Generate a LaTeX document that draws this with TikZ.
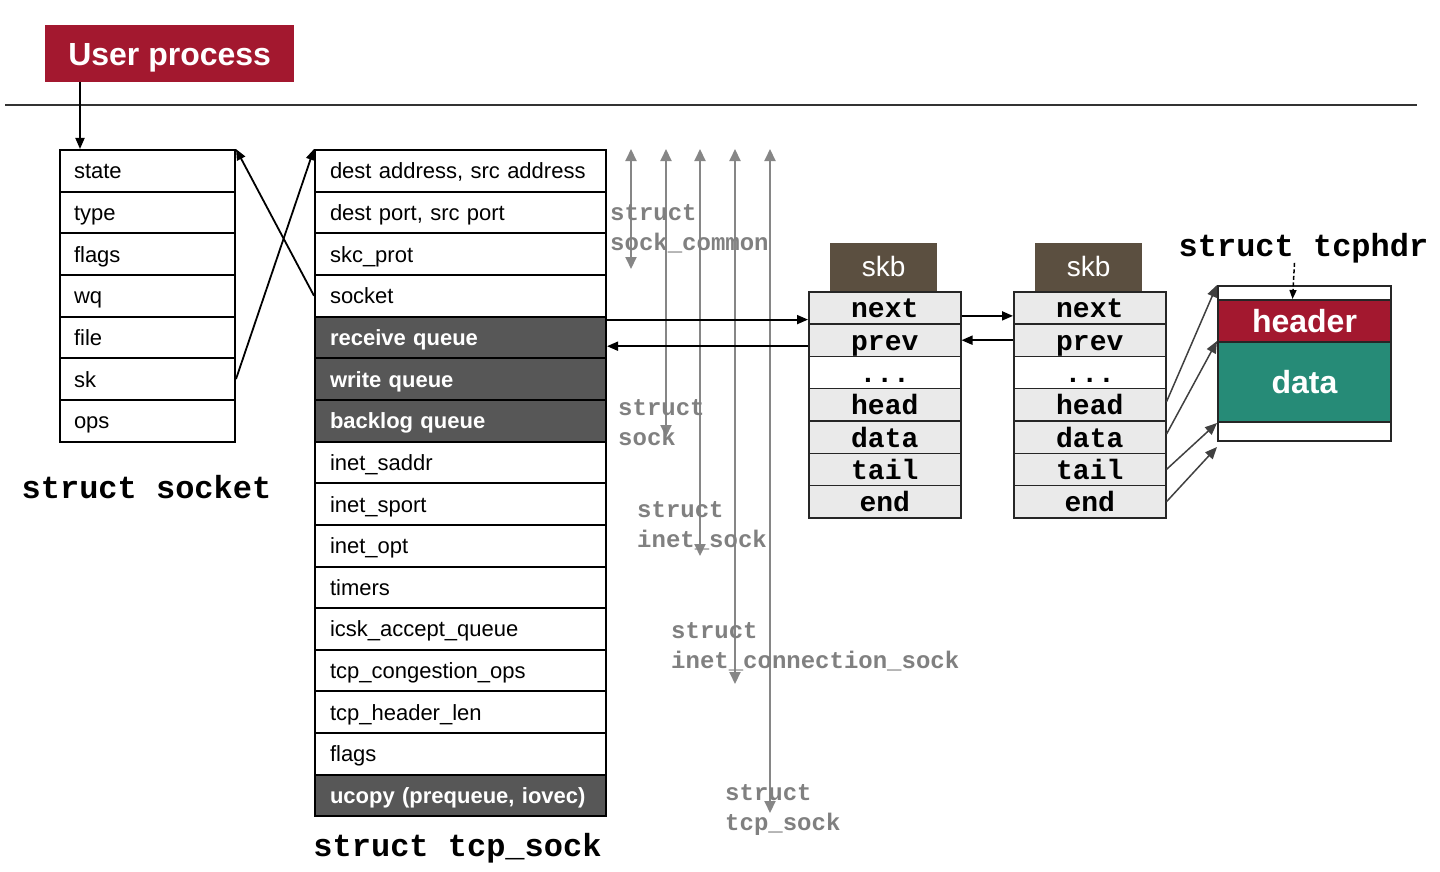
\documentclass[tikz,border=0pt]{standalone}
\usepackage{fontspec}
\setmainfont{Liberation Sans}
\setmonofont{Liberation Mono}
\usetikzlibrary{arrows.meta,positioning,calc}
\definecolor{upred}{HTML}{A3182F}
\definecolor{rowdark}{HTML}{575757}
\definecolor{skbbrown}{HTML}{5B4F40}
\definecolor{skbfill}{HTML}{EAEAEA}
\definecolor{datateal}{HTML}{268B77}
\definecolor{structgray}{HTML}{808080}
\definecolor{ptrgray}{HTML}{404040}
\tikzset{
  field/.style={draw=black, line width=2pt, anchor=north west, minimum height=41.65pt,
    inner ysep=0pt, text height=17pt, text depth=1pt, align=left,
    font=\fontsize{22}{26}\selectfont},
  sockrow/.style={field, text width=147pt, inner xsep=14pt},
  tcprow/.style={field, text width=261pt, inner xsep=15pt},
  fldlite/.style={fill=white},
  flddark/.style={fill=rowdark, text=white, font=\fontsize{22}{26}\selectfont\bfseries},
  % sk_buff boxes
  skbhead/.style={fill=skbbrown, text=white, anchor=south west, minimum width=107pt,
    minimum height=48pt, inner sep=0pt, text height=20pt, text depth=0pt,
    font=\fontsize{28}{30}\selectfont},
  skbrow/.style={draw=black!85, line width=1.5pt, anchor=north west, minimum width=152pt,
    minimum height=32.3pt, inner sep=0pt, text height=20pt, text depth=0pt,
    font=\fontsize{28}{30}\selectfont\ttfamily\bfseries},
  % packet buffer
  pktpart/.style={draw=black!85, line width=2pt, anchor=north west, minimum width=173pt,
    inner sep=0pt, text=white, text height=23pt, text depth=0pt,
    font=\fontsize{32}{34}\selectfont\bfseries},
  monolbl/.style={inner sep=0pt, font=\fontsize{32}{34}\selectfont\ttfamily\bfseries},
  glabel/.style={inner sep=0pt, anchor=base west, align=left, text=structgray,
    font=\fontsize{24}{29.5}\selectfont\ttfamily\bfseries},
  link/.style={-{Triangle[length=11pt,width=9pt]}, line width=1.8pt},
  ptr/.style={-{Triangle[length=12pt,width=10pt]}, line width=1.5pt, draw=ptrgray, color=ptrgray},
  hint/.style={-{Triangle[length=9pt,width=7pt]}, line width=1.5pt, dash pattern=on 4pt off 2.5pt},
  gline/.style={{Triangle[length=12pt,width=11pt]}-{Triangle[length=12pt,width=11pt]},
    line width=2pt, draw=structgray!95, color=structgray!95},
}

\begin{document}
\begin{tikzpicture}[x=1pt,y=-1pt]
  \useasboundingbox (0,0) rectangle (1440,872);
  % user space / kernel split
  \node[fill=upred, text=white, anchor=north west, minimum width=249pt, minimum height=57pt,
    inner sep=0pt, text height=24pt, text depth=0pt,
    font=\fontsize{32}{34}\selectfont\bfseries] (user) at (45,25) {User process};
  \draw[line width=1.5pt, black!80] (5,105) -- (1417,105);
  % struct socket
  \foreach \t [count=\i] in {state,type,flags,wq,file,sk,ops} {
    \node[sockrow, fldlite] (sk\i) at (59,{149+(\i-1)*41.65}) {\t};
  }
  \node[monolbl, anchor=base] (socklbl) at (146.5,498) {struct socket};
  % struct tcp_sock
  \foreach \s/\t [count=\i] in {fldlite/{dest address, src address}, fldlite/{dest port, src port},
      fldlite/skc\_prot, fldlite/socket, flddark/receive queue, flddark/write queue,
      flddark/backlog queue, fldlite/inet\_saddr, fldlite/inet\_sport, fldlite/inet\_opt,
      fldlite/timers, fldlite/icsk\_accept\_queue, fldlite/tcp\_congestion\_ops,
      fldlite/tcp\_header\_len, fldlite/flags, flddark/{ucopy (prequeue, iovec)}} {
    \node[tcprow, \s] (tp\i) at (314,{149+(\i-1)*41.65}) {\t};
  }
  \node[monolbl, anchor=base] (tcplbl) at (457.5,856) {struct tcp\_sock};
  % nesting of the sock structs
  \foreach \x/\y [count=\i] in {631/269, 666/437, 700/556, 735/684, 770/813} {
    \coordinate (gtop\i) at (\x,149);
    \coordinate (gbot\i) at (\x,\y);
    \draw[gline] (gtop\i) -- (gbot\i);
  }
  \foreach \x/\y/\t [count=\i] in {610/250/sock\_common, 618/445/sock, 637/547/inet\_sock,
      671/668/inet\_connection\_sock, 725/830/tcp\_sock} {
    \node[glabel] (glbl\i) at (\x,\y) {struct\\\t};
  }
  % the two sk_buffs
  \foreach \b/\x in {A/808, B/1013} {
    \node[skbhead] (hd\b) at ({\x+22},291) {skb};
    \foreach \t/\s [count=\i] in {next/skbfill, prev/skbfill, .{}.{}./white, head/skbfill,
        data/skbfill, tail/skbfill, end/skbfill} {
      \node[skbrow, fill=\s] (buf\b\i) at (\x,{291+(\i-1)*32.3}) {\t};
    }
  }
  % packet buffer
  \node[pktpart, fill=white, minimum height=155pt] (hdrbox) at (1217,285) {};
  \node[pktpart, fill=upred, minimum height=42pt] (hdr) at (1217,299) {header};
  \node[pktpart, fill=datateal, minimum height=80pt] (hdrdata) at (1217,341) {data};
  \node[monolbl, anchor=base] (hdrlbl) at (1303.5,256) {struct tcphdr};
  \draw[hint] ([xshift=-9pt]hdrlbl.south) -- ([xshift=-12pt]hdr.north);
  % pointers
  \draw[link] ([xshift=35pt]user.south west) -- ([xshift=35pt]user.south west |- sk1.north);
  \draw[link] (tp4.west) -- (sk1.north east);
  \draw[link] (sk6.east) -- (tp1.north west);
  \draw[link] ([yshift=-4pt]tp5.north east) -- ([yshift=-4pt]tp5.north east -| bufA1.west);
  \draw[link] ([yshift=-6pt]bufA2.west) -- ([yshift=-6pt]bufA2.west -| tp5.east);
  \draw[link] ([yshift=-8pt]bufA1.east) -- ([yshift=-8pt]bufA1.east -| bufB1.west);
  \draw[link] (bufB2.west) -- (bufB2.west -| bufA2.east);
  \draw[ptr] ([yshift=3pt]bufB4.east) -- (hdrbox.north west);
  \draw[ptr] ([yshift=3pt]bufB5.east) -- (hdrdata.north west);
  \draw[ptr] (bufB6.east) -- (hdrdata.south west);
  \draw[ptr] (bufB7.east) -- ([yshift=-5pt]hdrbox.south west);
\end{tikzpicture}
\end{document}
